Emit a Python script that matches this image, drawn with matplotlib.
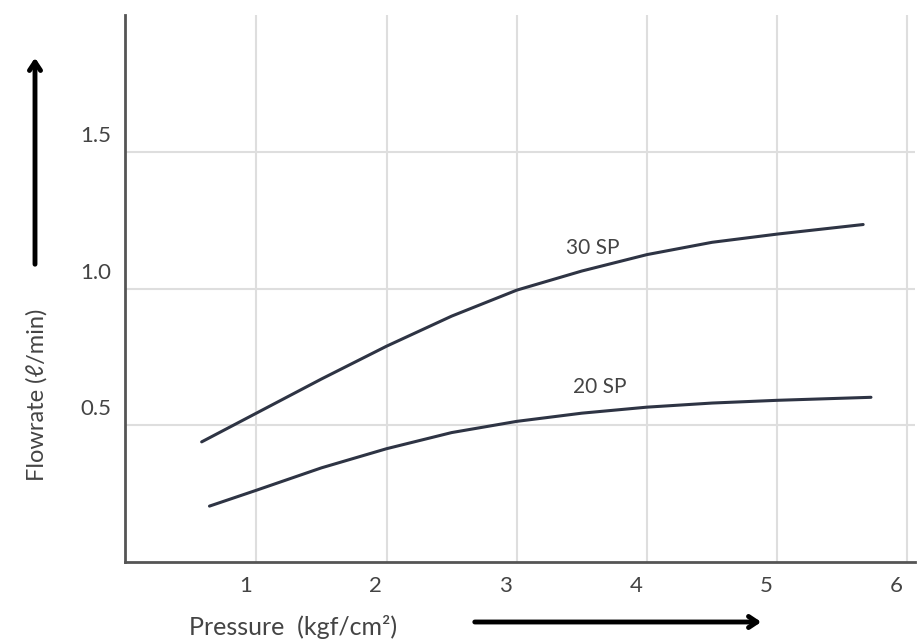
import numpy as np
import matplotlib
matplotlib.use('Agg')
import matplotlib.pyplot as plt
import matplotlib.transforms as mtransforms

plt.rcParams['font.family'] = ['Lato', 'DejaVu Sans']

sp30_x = [0.58, 1.0, 1.5, 2.0, 2.5, 3.0, 3.5, 4.0, 4.5, 5.0, 5.66]
sp30_y = [0.44, 0.545, 0.67, 0.79, 0.90, 0.995, 1.065, 1.125, 1.17, 1.20, 1.235]
sp20_x = [0.64, 1.0, 1.5, 2.0, 2.5, 3.0, 3.5, 4.0, 4.5, 5.0, 5.72]
sp20_y = [0.205, 0.263, 0.345, 0.415, 0.474, 0.515, 0.545, 0.567, 0.582, 0.592, 0.603]
xticks = [1, 2, 3, 4, 5, 6]
yticks = [0.5, 1.0, 1.5]
ytick_labels = ['0.5', '1.0', '1.5']

txtcol = '#444444'
linecol = '#2e3444'

fig = plt.figure(figsize=(9.18, 6.41), dpi=100)
ax = fig.add_axes([0.136, 0.123, 0.861, 0.853])

ax.plot(sp30_x, sp30_y, color=linecol, lw=2.2, solid_joinstyle='round', solid_capstyle='round')
ax.plot(sp20_x, sp20_y, color=linecol, lw=2.2, solid_joinstyle='round', solid_capstyle='round')
ax.text(3.58, 1.15, '30 SP', fontsize=15, color=txtcol, ha='center', va='center')
ax.text(3.64, 0.64, '20 SP', fontsize=15, color=txtcol, ha='center', va='center')

ax.set_xlim(-0.01, 6.06)
ax.set_ylim(0, 2.0)
ax.set_xticks(xticks)
ax.set_yticks(yticks)
ax.set_yticklabels(ytick_labels)
ax.grid(True, color='#dedede', lw=1.5)
ax.set_axisbelow(True)
ax.tick_params(length=0, labelsize=16, labelcolor=txtcol)
ax.tick_params(axis='x', pad=10)
ax.tick_params(axis='y', pad=10)

# labels in the scan sit a bit off the grid lines
for lab in ax.get_xticklabels():
    lab.set_transform(lab.get_transform() + mtransforms.ScaledTranslation(-0.11, 0, fig.dpi_scale_trans))
for lab in ax.get_yticklabels():
    lab.set_transform(lab.get_transform() + mtransforms.ScaledTranslation(0, 0.18, fig.dpi_scale_trans))

for s in ['top', 'right']:
    ax.spines[s].set_visible(False)
for s in ['left', 'bottom']:
    ax.spines[s].set_color('#555555')
    ax.spines[s].set_linewidth(2)

fig.text(0.040, 0.384, 'Flowrate (ℓ/min)', rotation=90, fontsize=17, color=txtcol,
         ha='center', va='center')
fig.text(0.319, 0.022, 'Pressure  (kgf/cm²)', fontsize=18, color=txtcol,
         ha='center', va='center')

# the two arrows beside the axis labels
ax.annotate('', xy=(35, 586), xytext=(35, 374), xycoords='figure pixels',
            textcoords='figure pixels',
            arrowprops=dict(arrowstyle='->,head_length=0.6,head_width=0.4', lw=3.5, color='black'))
ax.annotate('', xy=(764, 19), xytext=(472, 19), xycoords='figure pixels',
            textcoords='figure pixels',
            arrowprops=dict(arrowstyle='->,head_length=0.6,head_width=0.4', lw=3.5, color='black'))

fig.savefig('out.png', dpi=100)
